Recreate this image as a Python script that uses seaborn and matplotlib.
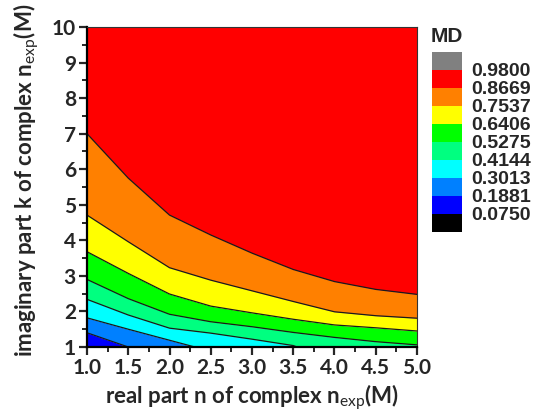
import numpy as np
import matplotlib
matplotlib.use("Agg")
import matplotlib.pyplot as plt
from matplotlib.ticker import MultipleLocator, FormatStrFormatter
import seaborn as sns
import pandas as pd

# ---- data ----
n_real = [1.0, 1.5, 2.0, 2.5, 3.0, 3.5, 4.0, 4.5, 5.0]
# k position of each contour boundary (MD level) along n
k_red_orange = [7.00, 5.75, 4.71, 4.15, 3.64, 3.18, 2.84, 2.62, 2.48]      # 0.8669
k_orange_yellow = [4.71, 3.96, 3.23, 2.88, 2.58, 2.28, 1.99, 1.88, 1.81]   # 0.7537
k_yellow_green = [3.68, 3.07, 2.49, 2.15, 1.96, 1.78, 1.62, 1.54, 1.45]    # 0.6406
k_green_spring = [2.90, 2.36, 1.92, 1.71, 1.57, 1.41, 1.27, 1.15, 1.06]    # 0.5275
k_spring_cyan = [2.34, 1.90, 1.53, 1.39, 1.22, 1.04, 0.60, 0.40, 0.20]     # 0.4144
k_cyan_azure = [1.82, 1.50, 1.19, 0.88, 0.50, 0.30, 0.20, 0.10, 0.00]      # 0.3013
k_azure_blue = [1.40, 1.00, 0.60, 0.40, 0.20, 0.10, 0.00, -0.10, -0.20]    # 0.1881

md_levels = [0.0750, 0.1881, 0.3013, 0.4144, 0.5275, 0.6406, 0.7537, 0.8669, 0.9800]
band_colors = ["#000000", "#0000FF", "#0080FF", "#00FFFF", "#00FF80",
               "#00FF00", "#FFFF00", "#FF8000", "#FF0000", "#808080"]

x_ticks = [1.0, 1.5, 2.0, 2.5, 3.0, 3.5, 4.0, 4.5, 5.0]
y_ticks = [1, 2, 3, 4, 5, 6, 7, 8, 9, 10]

sns.set_style("ticks")
plt.rcParams["font.family"] = ["Lato", "DejaVu Sans"]
plt.rcParams["mathtext.fontset"] = "custom"
plt.rcParams["mathtext.rm"] = "Lato"

fig = plt.figure(figsize=(5.42, 4.20), dpi=100)
ax = fig.add_axes([87 / 542, 1 - 347 / 420, 330 / 542, 320 / 420])

n = np.array(n_real)
boundaries = [np.full_like(n, -2.0), np.array(k_azure_blue), np.array(k_cyan_azure),
              np.array(k_spring_cyan), np.array(k_green_spring), np.array(k_yellow_green),
              np.array(k_orange_yellow), np.array(k_red_orange), np.full_like(n, 11.0)]
for i in range(len(boundaries) - 1):
    ax.fill_between(n, boundaries[i], boundaries[i + 1], color=band_colors[i + 1],
                    linewidth=0, zorder=1)

df = pd.DataFrame({"n": n_real, "0.8669": k_red_orange, "0.7537": k_orange_yellow,
                   "0.6406": k_yellow_green, "0.5275": k_green_spring,
                   "0.4144": k_spring_cyan, "0.3013": k_cyan_azure, "0.1881": k_azure_blue})
for col in df.columns[1:]:
    sns.lineplot(data=df, x="n", y=col, ax=ax, color="#1a1a1a", linewidth=0.9,
                 legend=False, zorder=2)

ax.set_xlim(1.0, 5.0)
ax.set_ylim(1, 10)
ax.set_xticks(x_ticks)
ax.set_yticks(y_ticks)
ax.xaxis.set_major_formatter(FormatStrFormatter("%.1f"))
ax.xaxis.set_minor_locator(MultipleLocator(0.25))
ax.yaxis.set_minor_locator(MultipleLocator(0.5))
ax.tick_params(which="major", direction="out", length=6, width=1.6, labelsize=15,
               pad=2, top=False, right=False)
ax.tick_params(which="minor", direction="out", length=3.5, width=1.4, top=False, right=False)
for lab in ax.get_xticklabels() + ax.get_yticklabels():
    lab.set_fontweight("bold")

for s in ["left", "bottom"]:
    ax.spines[s].set_linewidth(1.6)
    ax.spines[s].set_color("black")
for s in ["top", "right"]:
    ax.spines[s].set_visible(True)
    ax.spines[s].set_linewidth(0.8)
    ax.spines[s].set_color("#333333")
ax.set_zorder(1)
for s in ax.spines.values():
    s.set_zorder(5)

ax.set_xlabel(r"real part n of complex n$_{\mathrm{exp}}$(M)", fontsize=16,
              fontweight="bold")
ax.set_ylabel(r"imaginary part k of complex n$_{\mathrm{exp}}$(M)", fontsize=16,
              fontweight="bold")
ax.xaxis.set_label_coords(0.5, -0.11)
ax.yaxis.set_label_coords(-0.14, 0.52)

# ---- legend (MD colour key) ----
lax = fig.add_axes([432 / 542, 1 - 231.7 / 420, 30 / 542, 180 / 420])
for i, c in enumerate(band_colors):
    lax.bar(0, 1, bottom=i, width=1, color=c, linewidth=0)
lax.set_xlim(-0.5, 0.5)
lax.set_ylim(0, len(band_colors))
lax.set_xticks([])
lax.set_yticks(np.arange(1, len(band_colors)))
lax.set_yticklabels([f"{v:.4f}" for v in md_levels], family=["Liberation Sans", "DejaVu Sans"],
                    fontweight="bold", fontsize=14)
lax.yaxis.tick_right()
lax.tick_params(axis="y", length=0, pad=7)
for s in lax.spines.values():
    s.set_visible(False)
fig.text(431 / 542, 1 - 36.7 / 420, "MD", family=["Liberation Sans", "DejaVu Sans"],
         fontweight="bold", fontsize=15, va="center", ha="left")

fig.savefig("out.png", dpi=100)
